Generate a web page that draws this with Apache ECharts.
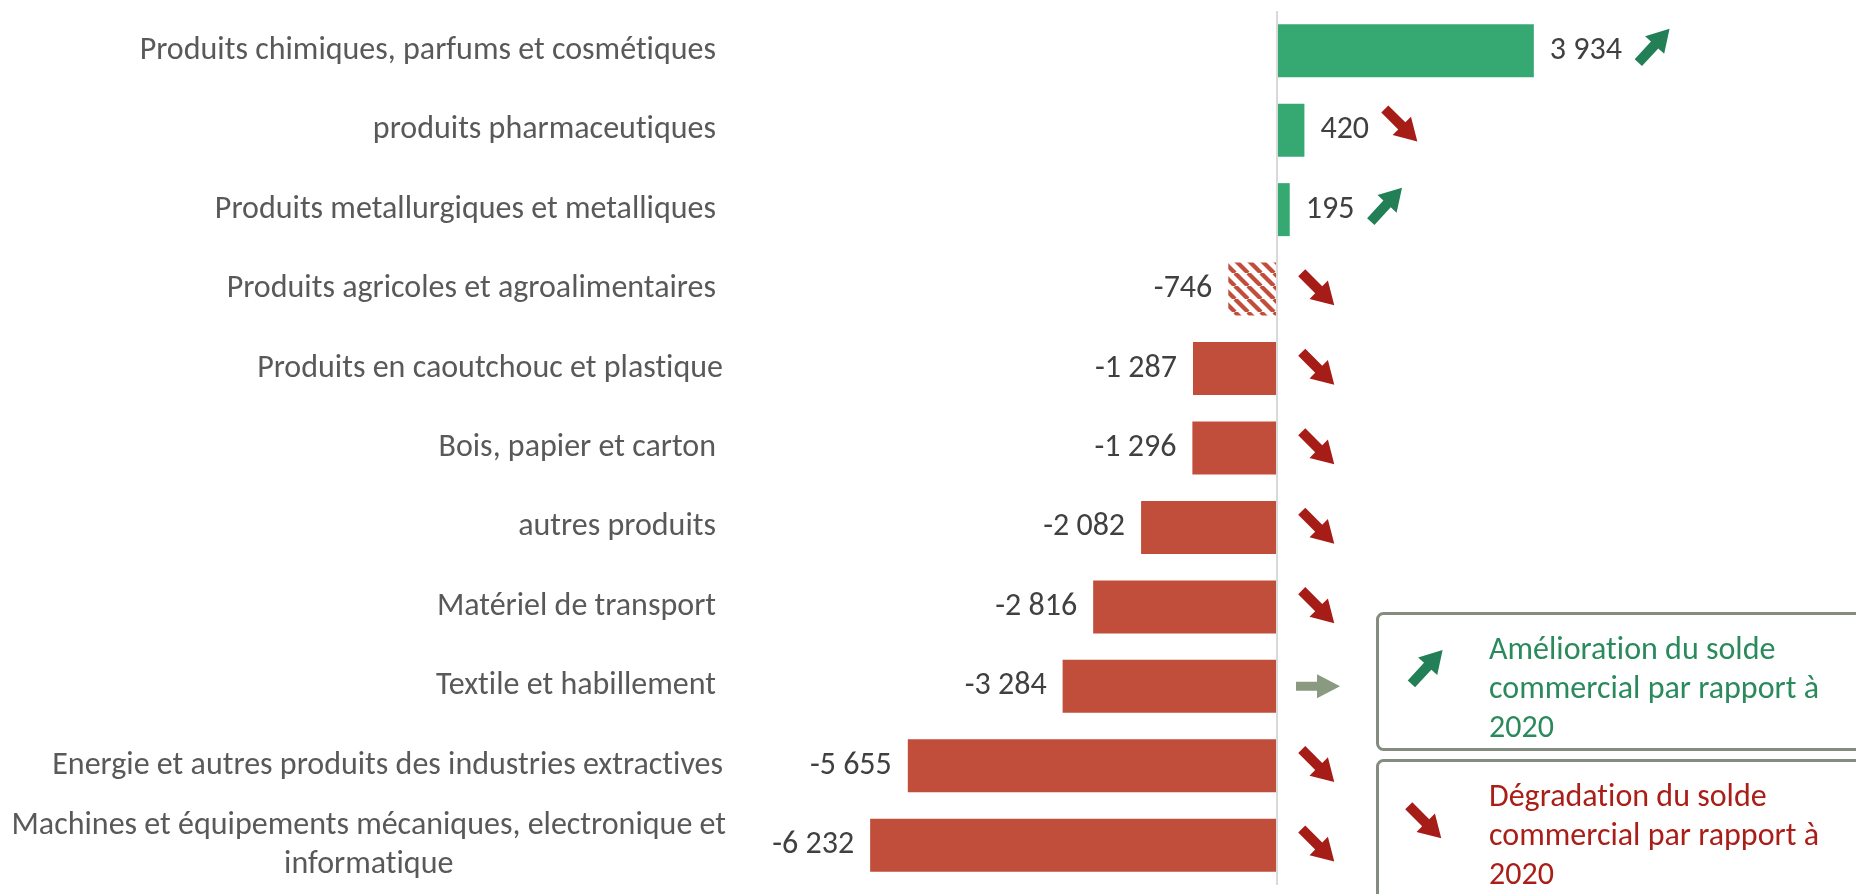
<!DOCTYPE html>
<html>
<head>
<meta charset="utf-8">
<script src="https://cdn.jsdelivr.net/npm/echarts@6/dist/echarts.min.js"></script>
<style>html,body{margin:0;padding:0;background:#fff}#chart{width:1856px;height:894px}</style>
</head>
<body>
<div id="chart"></div>
<script>
// ---- data ----
var categories = [
  'Produits chimiques, parfums et cosmétiques',
  'produits pharmaceutiques',
  'Produits metallurgiques et metalliques',
  'Produits agricoles et agroalimentaires',
  'Produits en caoutchouc et plastique',
  'Bois, papier et carton',
  'autres produits',
  'Matériel de transport',
  'Textile et habillement',
  'Energie et autres produits des industries extractives',
  'Machines et équipements mécaniques, electronique et informatique'
];
var values = [3934, 420, 195, -746, -1287, -1296, -2082, -2816, -3284, -5655, -6232];
var trends = ['up', 'down', 'up', 'down', 'down', 'down', 'down', 'down', 'flat', 'down', 'down'];
var legendTexts = [
  'Amélioration du solde\ncommercial par rapport à\n2020',
  'Dégradation du solde\ncommercial par rapport à\n2020'
];

// ---- styles ----
var FONT = 'Carlito, Calibri, sans-serif';
var GREEN = '#36A973', RED = '#C14E3A';
var ARROW = { up: '#237F56', down: '#A61C16', flat: '#8A9A80' };
var hatchedIndex = 3;
var labelPad = [10, 10, 10, 10, 3, 10, 10, 10, 10, 3, 0];

// break the "ti" ligature of Carlito (Calibri shows separate letters)
function noLig(s) { return s.replace(/t(?=i)/g, 't\u200C'); }

var mctx = document.createElement('canvas').getContext('2d');
mctx.font = '32px Carlito';
function textW(s) { return mctx.measureText(s).width; }
function fmt(v) {
  return (v < 0 ? '-' : '') + String(Math.abs(v)).replace(/\B(?=(\d{3})+(?!\d))/g, ' ');
}
function wrap(s, maxW) {
  if (textW(s) <= maxW) return [s];
  var words = s.split(' '), lines = [], cur = '';
  words.forEach(function (w) {
    var t = cur ? cur + ' ' + w : w;
    if (textW(t) > maxW && cur) { lines.push(cur); cur = w; } else cur = t;
  });
  if (cur) lines.push(cur);
  return lines;
}

// hatch pattern
var pc = document.createElement('canvas');
var P = 13; pc.width = P; pc.height = P;
var pctx = pc.getContext('2d');
pctx.fillStyle = '#fff'; pctx.fillRect(0, 0, P, P);
pctx.strokeStyle = RED; pctx.lineWidth = 4.2;
[-1, 0, 1].forEach(function (k) {
  pctx.beginPath(); pctx.moveTo(k * P, 0); pctx.lineTo(k * P + P, P); pctx.stroke();
});

function arrowPts(cx, cy, dir) {
  var L = 46, H = 22, W = 13, S = 5;
  var ang = dir === 'up' ? -Math.PI / 4 * 1.05 : dir === 'down' ? Math.PI / 4 : 0;
  if (dir === 'flat') { L = 44; W = 12; S = 4.5; H = 23; }
  var pts = [[-L / 2, -S], [L / 2 - H, -S], [L / 2 - H, -W], [L / 2, 0], [L / 2 - H, W], [L / 2 - H, S], [-L / 2, S]];
  var c = Math.cos(ang), s = Math.sin(ang);
  return pts.map(function (p) { return [cx + p[0] * c - p[1] * s, cy + p[0] * s + p[1] * c]; });
}

var rich = {
  m: { fontFamily: FONT, fontSize: 32, color: '#595959', lineHeight: 39, align: 'center' }
};
labelPad.forEach(function (p) {
  rich['p' + p] = { fontFamily: FONT, fontSize: 32, color: '#595959', padding: [0, p, 0, 0] };
});

var barData = values.map(function (v, i) {
  return {
    value: v,
    itemStyle: { color: i === hatchedIndex ? { image: pc, repeat: 'repeat' } : (v >= 0 ? GREEN : RED) },
    label: { position: v >= 0 ? 'right' : 'left' }
  };
});
var trendCode = { up: 1, down: -1, flat: 0 };
var arrowData = values.map(function (v, i) { return [v, i, trendCode[trends[i]]]; });
var codeDir = { '1': 'up', '-1': 'down', '0': 'flat' };

var chart = echarts.init(document.getElementById('chart'), null, { renderer: 'canvas' });

var graphics = [];
function legendBox(y, h, dir, text, color) {
  graphics.push({
    type: 'rect', left: 1376, top: y, shape: { width: 520, height: h, r: 6 },
    style: { fill: '#fff', stroke: '#848C80', lineWidth: 3 }, z: 10
  });
  graphics.push({
    type: 'polygon', shape: { points: arrowPts(0, 0, dir) }, x: dir === 'up' ? 1427 : 1425, y: y + (dir === 'up' ? 55 : 63),
    style: { fill: ARROW[dir] }, z: 11
  });
  graphics.push({
    type: 'text', x: 1489, y: y + 19,
    style: { text: noLig(text), fill: color, font: '32px ' + FONT, lineHeight: 39, verticalAlign: 'top' }, z: 11
  });
}
legendBox(612, 136, 'up', legendTexts[0], '#2A8A5C');
legendBox(759, 160, 'down', legendTexts[1], '#AA1E18');

chart.setOption({
  animation: false,
  grid: { left: 820, right: 122, top: 11, bottom: 9, containLabel: false },
  xAxis: { type: 'value', min: -7000, max: 7000, show: false },
  yAxis: {
    type: 'category', data: categories, inverse: true,
    axisLine: { show: false }, axisTick: { show: false }, splitLine: { show: false },
    axisLabel: {
      margin: 94, fontFamily: FONT, fontSize: 32, color: '#595959', interval: 0,
      rich: rich,
      formatter: function (val, idx) {
        var lines = wrap(val, 730);
        if (lines.length > 1) return lines.map(function (l) { return '{m|' + noLig(l) + '}'; }).join('\n');
        return '{p' + labelPad[idx] + '|' + noLig(val) + '}';
      }
    }
  },
  series: [
    {
      type: 'bar', data: barData, barWidth: '66.7%',
      label: {
        show: true, distance: 16, fontFamily: FONT, fontSize: 32, color: '#404040',
        formatter: function (p) { return fmt(p.value); }
      },
      markLine: {
        silent: true, symbol: 'none', label: { show: false },
        lineStyle: { color: '#D9D9D9', width: 2, type: 'solid' },
        data: [{ xAxis: 0 }], z: 5
      }
    },
    {
      type: 'custom', data: arrowData, encode: { x: 0, y: 1 }, clip: false, silent: true,
      renderItem: function (params, api) {
        var v = api.value(0), i = api.value(1), t = codeDir[String(api.value(2))];
        var p = api.coord([v, i]), z = api.coord([0, i]);
        var cx, cy;
        if (v >= 0) { cx = p[0] + 16 + textW(fmt(v)) + 32; cy = p[1] - 5; }
        else { cx = z[0] + 41; cy = p[1]; }
        return { type: 'polygon', shape: { points: arrowPts(cx, cy, t) }, style: { fill: ARROW[t] } };
      }
    }
  ],
  graphic: graphics
});
</script>
</body>
</html>
